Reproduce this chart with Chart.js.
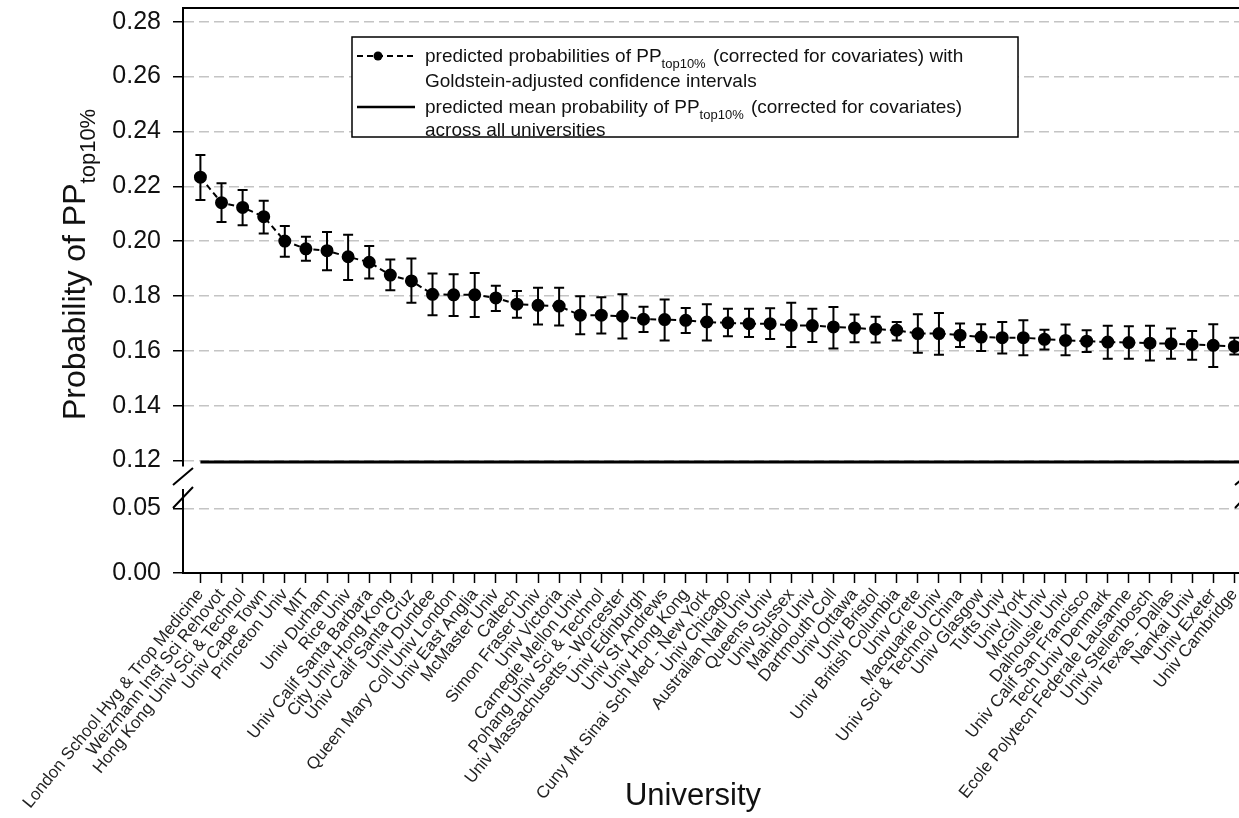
<!DOCTYPE html>
<html>
<head>
<meta charset="utf-8">
<script src="https://cdn.jsdelivr.net/npm/chart.js@4.4.0/dist/chart.umd.min.js"></script>
<style>
  html, body { margin: 0; padding: 0; background: #fff; }
  #wrap { width: 1239px; height: 818px; }
</style>
</head>
<body>
<div id="wrap"><canvas id="chart" width="1239" height="818"></canvas></div>
<script>
// Universities, in ranking order
const universities = [
  'London School Hyg & Trop Medicine', 'Weizmann Inst Sci Rehovot', 'Hong Kong Univ Sci & Technol',
  'Univ Cape Town', 'Princeton Univ', 'MIT', 'Univ Durham', 'Rice Univ', 'Univ Calif Santa Barbara',
  'City Univ Hong Kong', 'Univ Calif Santa Cruz', 'Univ Dundee', 'Queen Mary Coll Univ London',
  'Univ East Anglia', 'McMaster Univ', 'Caltech', 'Simon Fraser Univ', 'Univ Victoria',
  'Carnegie Mellon Univ', 'Pohang Univ Sci & Technol', 'Univ Massachusetts - Worcester',
  'Univ Edinburgh', 'Univ St Andrews', 'Univ Hong Kong', 'Cuny Mt Sinai Sch Med - New York',
  'Univ Chicago', 'Australian Natl Univ', 'Queens Univ', 'Univ Sussex', 'Mahidol Univ',
  'Dartmouth Coll', 'Univ Ottawa', 'Univ Bristol', 'Univ British Columbia', 'Univ Crete',
  'Macquarie Univ', 'Univ Sci & Technol China', 'Univ Glasgow', 'Tufts Univ', 'Univ York',
  'McGill Univ', 'Dalhousie Univ', 'Univ Calif San Francisco', 'Tech Univ Denmark',
  'Ecole Polytecn Federale Lausanne', 'Univ Stellenbosch', 'Univ Texas - Dallas', 'Nankai Univ',
  'Univ Exeter', 'Univ Cambridge'
];

// predicted probabilities of PP(top10%)
const probs = [
  0.2233, 0.2140, 0.2123, 0.2089, 0.2000, 0.1972, 0.1965, 0.1943, 0.1923, 0.1876,
  0.1855, 0.1806, 0.1804, 0.1804, 0.1793, 0.1770, 0.1766, 0.1763, 0.1730, 0.1730,
  0.1726, 0.1715, 0.1714, 0.1711, 0.1705, 0.1702, 0.1699, 0.1699, 0.1693, 0.1692,
  0.1687, 0.1683, 0.1679, 0.1675, 0.1663, 0.1663, 0.1657, 0.1650, 0.1648, 0.1648,
  0.1642, 0.1638, 0.1635, 0.1632, 0.1630, 0.1628, 0.1626, 0.1623, 0.1620, 0.1616
];

// Goldstein-adjusted confidence intervals
const ciHigh = [
  0.2314, 0.2211, 0.2186, 0.2147, 0.2055, 0.2016, 0.2033, 0.2023, 0.1982, 0.1933,
  0.1937, 0.1882, 0.1879, 0.1884, 0.1837, 0.1818, 0.1830, 0.1830, 0.1799, 0.1795,
  0.1806, 0.1761, 0.1787, 0.1756, 0.1770, 0.1753, 0.1753, 0.1755, 0.1775, 0.1753,
  0.1760, 0.1732, 0.1724, 0.1705, 0.1733, 0.1738, 0.1700, 0.1697, 0.1705, 0.1711,
  0.1677, 0.1696, 0.1675, 0.1691, 0.1690, 0.1691, 0.1681, 0.1672, 0.1697, 0.1648
];
const ciLow = [
  0.2150, 0.2070, 0.2058, 0.2028, 0.1943, 0.1928, 0.1894, 0.1858, 0.1864, 0.1821,
  0.1775, 0.1730, 0.1727, 0.1723, 0.1745, 0.1721, 0.1696, 0.1692, 0.1660, 0.1663,
  0.1645, 0.1669, 0.1638, 0.1665, 0.1638, 0.1653, 0.1650, 0.1643, 0.1614, 0.1632,
  0.1608, 0.1631, 0.1630, 0.1638, 0.1593, 0.1586, 0.1614, 0.1599, 0.1590, 0.1584,
  0.1605, 0.1584, 0.1596, 0.1571, 0.1571, 0.1565, 0.1571, 0.1567, 0.1541, 0.1587
];

// mean probability across all universities
const meanProb = 0.1195;

// broken y axis: upper and lower ranges
const upperRange = [0.118, 0.285];
const lowerRange = [0, 0.0641];
const xRange = [-0.825, 49.22];

const FONT = '"Liberation Sans", Arial, sans-serif';
Chart.defaults.font.family = FONT;
Chart.defaults.color = '#111';

const legendLines = [
  [{ text: 'predicted probabilities of PP' }, { text: 'top10%', sub: true }, { text: ' (corrected for covariates) with' }],
  [{ text: 'Goldstein-adjusted confidence intervals' }],
  [{ text: 'predicted mean probability of PP' }, { text: 'top10%', sub: true }, { text: ' (corrected for covariates)' }],
  [{ text: 'across all universities' }]
];

function drawRich(ctx, parts, x, y, size) {
  let cx = x;
  parts.forEach(p => {
    const fs = p.sub ? Math.round(size * 0.68) : size;
    ctx.font = fs + 'px ' + FONT;
    ctx.fillText(p.text, cx, p.sub ? y + size * 0.3 : y);
    cx += ctx.measureText(p.text).width + (p.sub ? 2 : 0);
  });
  return cx;
}

function isEven(v) { return Math.round(v * 100) % 2 === 0; }

// error bars drawn from the y scale
const errorBars = {
  id: 'errorBars',
  beforeDatasetsDraw(chart) {
    const { ctx, scales: { x, y } } = chart;
    ctx.save();
    ctx.strokeStyle = '#000';
    ctx.lineWidth = 2;
    universities.forEach((u, i) => {
      const px = x.getPixelForValue(i);
      const top = y.getPixelForValue(ciHigh[i]);
      const bot = y.getPixelForValue(ciLow[i]);
      ctx.beginPath();
      ctx.moveTo(px, top); ctx.lineTo(px, bot);
      ctx.moveTo(px - 5, top); ctx.lineTo(px + 5, top);
      ctx.moveTo(px - 5, bot); ctx.lineTo(px + 5, bot);
      ctx.stroke();
    });
    ctx.restore();
  }
};

// frame, axis break, legend box and axis titles
const decorations = {
  id: 'decorations',
  afterDraw(chart) {
    const { ctx, chartArea, scales } = chart;
    const up = scales.y, low = scales.yLow;
    ctx.save();
    ctx.strokeStyle = '#000';
    ctx.lineWidth = 2;

    // top frame
    ctx.beginPath();
    ctx.moveTo(chartArea.left - 1, chartArea.top);
    ctx.lineTo(chartArea.right, chartArea.top);
    ctx.stroke();

    // break marks
    [chartArea.left, chartArea.right + 6].forEach(ax => {
      ctx.beginPath();
      ctx.moveTo(ax - 10, up.bottom + 19); ctx.lineTo(ax + 10, up.bottom + 2);
      ctx.moveTo(ax - 10, low.top + 18); ctx.lineTo(ax + 10, low.top - 3);
      ctx.stroke();
    });

    // legend
    const lx = 352, ly = 37, lw = 666, lh = 100;
    ctx.fillStyle = '#fff';
    ctx.fillRect(lx, ly, lw, lh);
    ctx.lineWidth = 1.5;
    ctx.strokeRect(lx, ly, lw, lh);
    ctx.fillStyle = '#111';
    ctx.textBaseline = 'alphabetic';
    const rows = [56, 81, 107, 130];
    legendLines.forEach((parts, i) => drawRich(ctx, parts, 425, rows[i] + 6, 19));
    // sample: dashed line with dot
    ctx.lineWidth = 2;
    ctx.setLineDash([6, 4]);
    ctx.beginPath(); ctx.moveTo(357, rows[0]); ctx.lineTo(415, rows[0]); ctx.stroke();
    ctx.setLineDash([]);
    ctx.beginPath(); ctx.arc(378, rows[0], 4.5, 0, Math.PI * 2); ctx.fillStyle = '#000'; ctx.fill();
    // sample: solid line
    ctx.lineWidth = 2.5;
    ctx.beginPath(); ctx.moveTo(357, rows[2]); ctx.lineTo(415, rows[2]); ctx.stroke();

    // y title with subscript
    ctx.fillStyle = '#111';
    ctx.translate(85, 420);
    ctx.rotate(-Math.PI / 2);
    drawRich(ctx, [{ text: 'Probability of PP' }, { text: 'top10%', sub: true }], 0, 0, 32);
    ctx.setTransform(1, 0, 0, 1, 0, 0);

    // x title
    ctx.font = '31px ' + FONT;
    ctx.textAlign = 'center';
    ctx.fillText('University', 693, 805);
    ctx.restore();
  }
};

const gridColor = '#c4c4c4';

function fixWidth(scale) {
  scale.width = 183;
  scale.paddingTop = 0; scale.paddingBottom = 0;
}

new Chart(document.getElementById('chart'), {
  type: 'line',
  data: {
    datasets: [
      {
        label: 'predicted probabilities',
        data: probs.map((v, i) => ({ x: i, y: v })),
        yAxisID: 'y',
        borderColor: '#000',
        borderWidth: 2,
        borderDash: [6, 4],
        pointRadius: 5.5,
        pointBackgroundColor: '#000',
        pointBorderColor: '#000',
        tension: 0
      },
      {
        label: 'predicted mean probability',
        data: [{ x: 0, y: meanProb }, { x: xRange[1], y: meanProb }],
        yAxisID: 'y',
        borderColor: '#000',
        borderWidth: 3,
        pointRadius: 0
      }
    ]
  },
  options: {
    responsive: false,
    animation: false,
    devicePixelRatio: 1,
    layout: { autoPadding: false, padding: { top: 8, left: 0, right: 0, bottom: 0 } },
    plugins: { legend: { display: false }, tooltip: { enabled: false } },
    scales: {
      x: {
        type: 'linear',
        position: 'bottom',
        min: xRange[0],
        max: xRange[1],
        afterFit(scale) {
          scale.height = 245;
          scale.paddingLeft = 0; scale.paddingRight = 0;
        },
        ticks: {
          stepSize: 1,
          maxTicksLimit: 1000,
          includeBounds: false,
          autoSkip: false,
          minRotation: 51,
          maxRotation: 51,
          padding: 2,
          font: { size: 17 },
          color: '#222',
          callback: v => universities[Math.round(v)] || ''
        },
        grid: { drawOnChartArea: false, drawTicks: true, tickLength: 10, tickColor: '#000', tickWidth: 1.5 },
        border: { display: true, color: '#000', width: 2 }
      },
      yLow: {
        type: 'linear',
        position: 'left',
        stack: 'left',
        stackWeight: 83,
        min: lowerRange[0],
        max: lowerRange[1],
        afterFit: fixWidth,
        ticks: {
          stepSize: 0.025,
          maxTicksLimit: 100,
          includeBounds: false,
          padding: 12,
          font: { size: 25 },
          color: '#111',
          callback: v => (Math.abs(v - 0.025) < 1e-6 ? '' : v.toFixed(2))
        },
        grid: {
          color: ctx => (ctx.tick && Math.abs(ctx.tick.value - 0.05) < 1e-6 ? gridColor : 'rgba(0,0,0,0)'),
          lineWidth: 1.5,
          tickLength: 10,
          tickColor: '#000',
          tickWidth: 1.5
        },
        border: { display: true, color: '#000', width: 2, dash: [10, 5] }
      },
      yGap: {
        type: 'linear',
        position: 'left',
        stack: 'left',
        stackWeight: 24,
        min: 0,
        max: 1,
        afterFit: fixWidth,
        ticks: { display: false },
        grid: { display: false },
        border: { display: false }
      },
      y: {
        type: 'linear',
        position: 'left',
        stack: 'left',
        stackWeight: 458,
        min: upperRange[0],
        max: upperRange[1],
        afterFit: fixWidth,
        ticks: {
          stepSize: 0.01,
          maxTicksLimit: 100,
          includeBounds: false,
          padding: 12,
          font: { size: 25 },
          color: '#111',
          callback: v => (isEven(v) ? v.toFixed(2) : '')
        },
        grid: {
          color: ctx => (ctx.tick && isEven(ctx.tick.value) ? gridColor : 'rgba(0,0,0,0)'),
          lineWidth: 1.5,
          tickLength: 10,
          tickColor: '#000',
          tickWidth: 1.5
        },
        border: { display: true, color: '#000', width: 2, dash: [10, 5] }
      }
    }
  },
  plugins: [errorBars, decorations]
});
</script>
</body>
</html>
